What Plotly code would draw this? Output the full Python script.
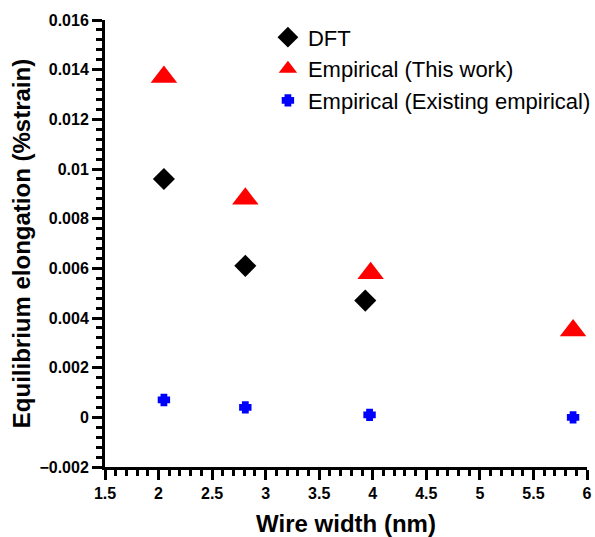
import plotly.graph_objects as go

# Wire widths (nm) and equilibrium elongation (%strain)
dft_width = [2.05, 2.81, 3.93]
dft_strain = [0.0096, 0.0061, 0.0047]

this_work_width = [2.05, 2.81, 3.98, 5.87]
this_work_strain = [0.0137, 0.0088, 0.0058, 0.0035]

existing_width = [2.05, 2.81, 3.97, 5.87]
existing_strain = [0.0007, 0.0004, 0.0001, 0.0000]

x_tick_vals = [1.5, 2, 2.5, 3, 3.5, 4, 4.5, 5, 5.5, 6]
x_tick_text = ["1.5", "2", "2.5", "3", "3.5", "4", "4.5", "5", "5.5", "6"]
y_tick_vals = [-0.002, 0, 0.002, 0.004, 0.006, 0.008, 0.01, 0.012, 0.014, 0.016]
y_tick_text = ["\u22120.002", "0", "0.002", "0.004", "0.006", "0.008",
               "0.01", "0.012", "0.014", "0.016"]

FONT = "Liberation Sans, Arial, Helvetica, sans-serif"

fig = go.Figure()
fig.add_trace(go.Scatter(
    x=dft_width, y=dft_strain, mode="markers", name="DFT", legendgroup="a",
    marker=dict(symbol="diamond", size=17, color="black"),
))
fig.add_trace(go.Scatter(
    x=this_work_width, y=this_work_strain, mode="markers",
    name="Empirical (This work)", legendgroup="b",
    marker=dict(symbol="triangle-up", size=23, color="#ff0000"),
))
fig.add_trace(go.Scatter(
    x=existing_width, y=existing_strain, mode="markers",
    name="Empirical (Existing empirical)", legendgroup="c",
    marker=dict(symbol="cross", size=7, color="#0000ff",
                line=dict(color="#0000ff", width=4)),
))

axis_common = dict(
    showgrid=False, zeroline=False, showline=True, linecolor="black",
    linewidth=3, ticks="outside", ticklen=10, tickwidth=3,
    tickcolor="black",
    tickfont=dict(family=FONT, size=16, color="black", weight="bold"),
)

fig.update_layout(
    width=595, height=537,
    margin=dict(l=105, r=8, t=20, b=70, autoexpand=False),
    paper_bgcolor="white", plot_bgcolor="white",
    font=dict(family=FONT, color="black"),
    xaxis=dict(
        range=[1.5, 6], tickvals=x_tick_vals, ticktext=x_tick_text,
        minor=dict(dtick=0.1, ticks="outside", ticklen=6, tickwidth=3,
                   tickcolor="black"),
        title=dict(text="Wire width (nm)", standoff=16,
                   font=dict(family=FONT, size=24, weight="bold")),
        **axis_common,
    ),
    yaxis=dict(
        range=[-0.002, 0.016], tickvals=y_tick_vals, ticktext=y_tick_text,
        minor=dict(dtick=0.0004, ticks="outside", ticklen=6, tickwidth=3,
                   tickcolor="black"),
        title=dict(text="Equilibrium elongation (%strain)", standoff=3,
                   font=dict(family=FONT, size=24, weight="bold")),
        **axis_common,
    ),
    legend=dict(
        x=0.338, y=1.008, xanchor="left", yanchor="top",
        bgcolor="rgba(0,0,0,0)", traceorder="grouped", tracegroupgap=0,
        font=dict(family=FONT, size=22, color="black"),
        itemsizing="trace",
    ),
)

fig.write_html("out.html")
